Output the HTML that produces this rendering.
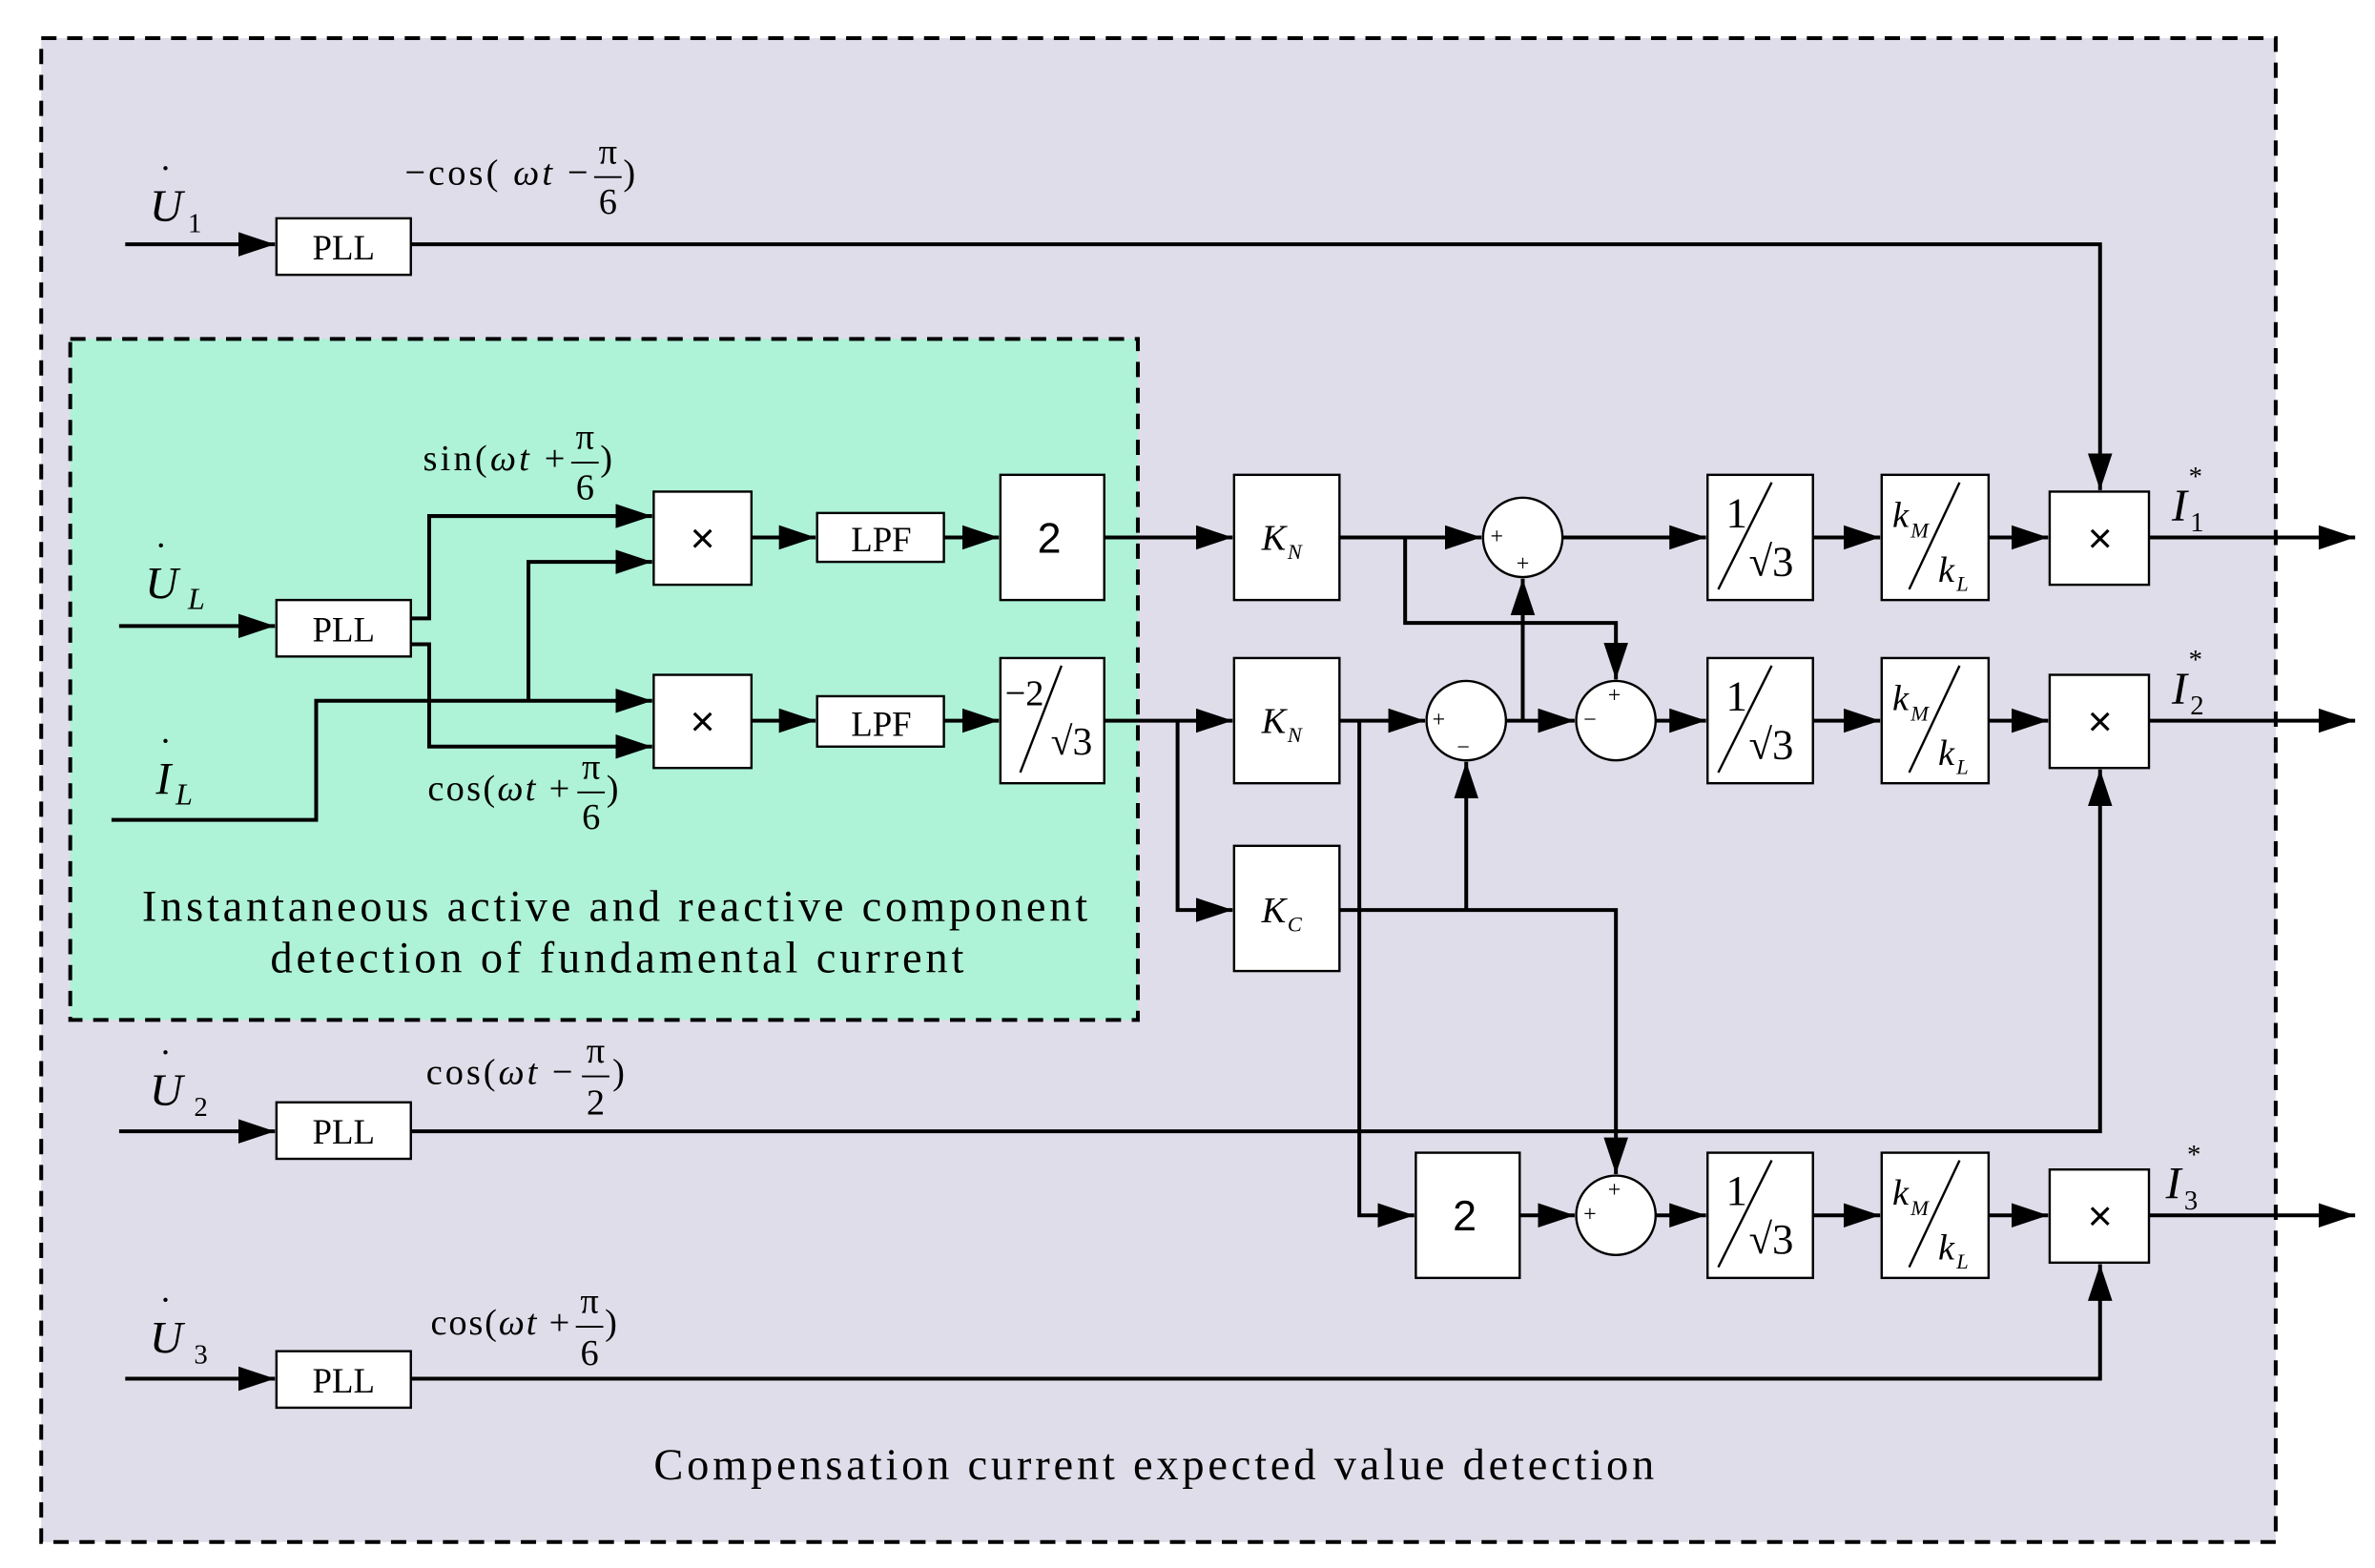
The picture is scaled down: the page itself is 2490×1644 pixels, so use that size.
<!DOCTYPE html>
<html><head><meta charset="utf-8"><style>
html,body{margin:0;padding:0;background:#fff}
svg{display:block}
text{font-family:"Liberation Serif",serif;fill:#000}
.it{font-style:italic}
</style></head><body>
<svg width="2490" height="1644" viewBox="0 0 1555 1027" preserveAspectRatio="none" xmlns="http://www.w3.org/2000/svg">
<defs>
<marker id="ar" viewBox="0 0 24 16" refX="24" refY="8" markerWidth="24" markerHeight="16" orient="auto" markerUnits="userSpaceOnUse"><path d="M0,0 L24,8 L0,16 z" fill="#000"/></marker>
</defs>
<rect x="0" y="0" width="1555" height="1027" fill="#fff"/>
<rect x="27" y="25" width="1463" height="985" fill="#dedde9" stroke="#000" stroke-width="2.5" stroke-dasharray="10,7"/>
<rect x="46" y="222" width="699" height="446" fill="#aef2d8" stroke="#000" stroke-width="2.5" stroke-dasharray="10,7"/>

<g stroke="#000" stroke-width="2.5" fill="none">
<line x1="82" y1="160" x2="180" y2="160" marker-end="url(#ar)"/>
<polyline points="269,160 1375,160 1375,321" marker-end="url(#ar)"/>
<line x1="78" y1="410" x2="180" y2="410" marker-end="url(#ar)"/>
<polyline points="269,405 281,405 281,338 427,338" marker-end="url(#ar)"/>
<polyline points="269,422 281,422 281,489 427,489" marker-end="url(#ar)"/>
<polyline points="73,537 207,537 207,459 427,459" marker-end="url(#ar)"/>
<polyline points="346,459 346,368 427,368" marker-end="url(#ar)"/>
<line x1="492" y1="352" x2="534" y2="352" marker-end="url(#ar)"/>
<line x1="618" y1="352" x2="654" y2="352" marker-end="url(#ar)"/>
<line x1="492" y1="472" x2="534" y2="472" marker-end="url(#ar)"/>
<line x1="618" y1="472" x2="654" y2="472" marker-end="url(#ar)"/>
<line x1="723" y1="352" x2="807" y2="352" marker-end="url(#ar)"/>
<line x1="723" y1="472" x2="807" y2="472" marker-end="url(#ar)"/>
<polyline points="771,472 771,596 807,596" marker-end="url(#ar)"/>
<line x1="877" y1="352" x2="970" y2="352" marker-end="url(#ar)"/>
<polyline points="920,352 920,408 1058,408 1058,445" marker-end="url(#ar)"/>
<line x1="877" y1="472" x2="933" y2="472" marker-end="url(#ar)"/>
<polyline points="890,472 890,796 926,796" marker-end="url(#ar)"/>
<line x1="986" y1="472" x2="1031" y2="472" marker-end="url(#ar)"/>
<line x1="997" y1="472" x2="997" y2="379" marker-end="url(#ar)"/>
<polyline points="877,596 1058,596 1058,769" marker-end="url(#ar)"/>
<line x1="960" y1="596" x2="960" y2="499" marker-end="url(#ar)"/>
<line x1="995" y1="796" x2="1031" y2="796" marker-end="url(#ar)"/>
<line x1="1023" y1="352" x2="1117" y2="352" marker-end="url(#ar)"/>
<line x1="1084" y1="472" x2="1117" y2="472" marker-end="url(#ar)"/>
<line x1="1084" y1="796" x2="1117" y2="796" marker-end="url(#ar)"/>
<line x1="1187" y1="352" x2="1231" y2="352" marker-end="url(#ar)"/>
<line x1="1187" y1="472" x2="1231" y2="472" marker-end="url(#ar)"/>
<line x1="1187" y1="796" x2="1231" y2="796" marker-end="url(#ar)"/>
<line x1="1302" y1="352" x2="1341" y2="352" marker-end="url(#ar)"/>
<line x1="1302" y1="472" x2="1341" y2="472" marker-end="url(#ar)"/>
<line x1="1302" y1="796" x2="1341" y2="796" marker-end="url(#ar)"/>
<line x1="1407" y1="352" x2="1542" y2="352" marker-end="url(#ar)"/>
<line x1="1407" y1="472" x2="1542" y2="472" marker-end="url(#ar)"/>
<line x1="1407" y1="796" x2="1542" y2="796" marker-end="url(#ar)"/>
<line x1="78" y1="741" x2="180" y2="741" marker-end="url(#ar)"/>
<polyline points="269,741 1375,741 1375,504" marker-end="url(#ar)"/>
<line x1="82" y1="903" x2="180" y2="903" marker-end="url(#ar)"/>
<polyline points="269,903 1375,903 1375,828" marker-end="url(#ar)"/>
</g>

<g fill="#fff" stroke="#000" stroke-width="1.5">
<rect x="181" y="143" width="88" height="37"/>
<rect x="181" y="393" width="88" height="37"/>
<rect x="181" y="722" width="88" height="37"/>
<rect x="181" y="885" width="88" height="37"/>
<rect x="428" y="322" width="64" height="61"/>
<rect x="428" y="442" width="64" height="61"/>
<rect x="535" y="336" width="83" height="32"/>
<rect x="535" y="456" width="83" height="33"/>
<rect x="655" y="311" width="68" height="82"/>
<rect x="655" y="431" width="68" height="82"/>
<rect x="808" y="311" width="69" height="82"/>
<rect x="808" y="431" width="69" height="82"/>
<rect x="808" y="554" width="69" height="82"/>
<rect x="927" y="755" width="68" height="82"/>
<rect x="1118" y="311" width="69" height="82"/>
<rect x="1118" y="431" width="69" height="82"/>
<rect x="1118" y="755" width="69" height="82"/>
<rect x="1232" y="311" width="70" height="82"/>
<rect x="1232" y="431" width="70" height="82"/>
<rect x="1232" y="755" width="70" height="82"/>
<rect x="1342" y="322" width="65" height="61"/>
<rect x="1342" y="442" width="65" height="61"/>
<rect x="1342" y="766" width="65" height="61"/>
<circle cx="997" cy="352" r="26"/>
<circle cx="960" cy="472" r="26"/>
<circle cx="1058" cy="472" r="26"/>
<circle cx="1058" cy="796" r="26"/>
</g>

<g font-size="23" text-anchor="middle">
<text x="225" y="170">PLL</text><text x="225" y="420">PLL</text>
<text x="225" y="749">PLL</text><text x="225" y="912">PLL</text>
<text x="577" y="361">LPF</text><text x="577" y="482">LPF</text>
</g>
<g font-size="28" text-anchor="middle">
<text x="460" y="362" style="font-family:'Liberation Sans',sans-serif">×</text>
<text x="460" y="482" style="font-family:'Liberation Sans',sans-serif">×</text>
<text x="1375" y="362" style="font-family:'Liberation Sans',sans-serif">×</text>
<text x="1375" y="482" style="font-family:'Liberation Sans',sans-serif">×</text>
<text x="1375" y="806" style="font-family:'Liberation Sans',sans-serif">×</text>
<text x="687" y="362" style="font-family:'Liberation Sans',sans-serif">2</text>
<text x="959" y="806" style="font-family:'Liberation Sans',sans-serif">2</text>
</g>
<g font-size="24">
<text x="826" y="360" class="it">K</text><text x="843" y="366" font-size="14" class="it">N</text>
<text x="826" y="480" class="it">K</text><text x="843" y="486" font-size="14" class="it">N</text>
<text x="826" y="604" class="it">K</text><text x="843" y="610" font-size="14" class="it">C</text>
</g>
<text x="658" y="462" font-size="24">−2</text>
<line x1="695" y1="436" x2="668" y2="506" stroke="#000" stroke-width="1.5"/>
<text x="688" y="494" font-size="26">√3</text>
<g stroke="#000" stroke-width="1.5">
<line x1="1160" y1="316" x2="1125" y2="386"/>
<line x1="1160" y1="436" x2="1125" y2="506"/>
<line x1="1160" y1="760" x2="1125" y2="830"/>
<line x1="1283" y1="316" x2="1250" y2="386"/>
<line x1="1283" y1="436" x2="1250" y2="506"/>
<line x1="1283" y1="760" x2="1250" y2="830"/>
</g>
<g font-size="28">
<text x="1130" y="345">1</text><text x="1145" y="377">√3</text>
<text x="1130" y="465">1</text><text x="1145" y="497">√3</text>
<text x="1130" y="789">1</text><text x="1145" y="821">√3</text>
</g>
<g font-size="24">
<text x="1239" y="345" class="it">k</text><text x="1251" y="352" font-size="14" class="it">M</text>
<text x="1269" y="381" class="it">k</text><text x="1281" y="387" font-size="14" class="it">L</text>
<text x="1239" y="465" class="it">k</text><text x="1251" y="472" font-size="14" class="it">M</text>
<text x="1269" y="501" class="it">k</text><text x="1281" y="507" font-size="14" class="it">L</text>
<text x="1239" y="789" class="it">k</text><text x="1251" y="796" font-size="14" class="it">M</text>
<text x="1269" y="825" class="it">k</text><text x="1281" y="831" font-size="14" class="it">L</text>
</g>
<g font-size="15" text-anchor="middle">
<text x="980" y="356">+</text><text x="997" y="374">+</text>
<text x="942" y="476">+</text><text x="958" y="494">−</text>
<text x="1041" y="476">−</text><text x="1057" y="460">+</text>
<text x="1041" y="800">+</text><text x="1057" y="784">+</text>
</g>
<g font-size="30">
<text x="98" y="145" class="it">U</text><text x="104" y="126" font-size="26">˙</text><text x="123" y="152" font-size="18">1</text>
<text x="95" y="392" class="it">U</text><text x="101" y="373" font-size="26">˙</text><text x="123" y="399" font-size="20" class="it">L</text>
<text x="102" y="520" class="it">I</text><text x="104" y="501" font-size="26">˙</text><text x="115" y="527" font-size="20" class="it">L</text>
<text x="98" y="724" class="it">U</text><text x="104" y="705" font-size="26">˙</text><text x="127" y="731" font-size="18">2</text>
<text x="98" y="886" class="it">U</text><text x="104" y="867" font-size="26">˙</text><text x="127" y="893" font-size="18">3</text>
<text x="1422" y="341" class="it">I</text><text x="1433" y="318" font-size="18">*</text><text x="1434" y="348" font-size="18">1</text>
<text x="1422" y="461" class="it">I</text><text x="1433" y="438" font-size="18">*</text><text x="1434" y="468" font-size="18">2</text>
<text x="1418" y="785" class="it">I</text><text x="1432" y="762" font-size="18">*</text><text x="1430" y="792" font-size="18">3</text>
</g>
<g font-size="24">
<text x="265" y="121" textLength="120" lengthAdjust="spacing">−cos( <tspan class="it">ωt</tspan> −</text>
<text x="398" y="107" text-anchor="middle">π</text><text x="398" y="140" text-anchor="middle">6</text><text x="408" y="121">)</text>
<text x="277" y="308" textLength="93" lengthAdjust="spacing">sin(<tspan class="it">ωt</tspan> +</text>
<text x="383" y="294" text-anchor="middle">π</text><text x="383" y="327" text-anchor="middle">6</text><text x="393" y="308">)</text>
<text x="280" y="524" textLength="93" lengthAdjust="spacing">cos(<tspan class="it">ωt</tspan> +</text>
<text x="387" y="510" text-anchor="middle">π</text><text x="387" y="543" text-anchor="middle">6</text><text x="397" y="524">)</text>
<text x="279" y="710" textLength="96" lengthAdjust="spacing">cos(<tspan class="it">ωt</tspan> −</text>
<text x="390" y="696" text-anchor="middle">π</text><text x="390" y="730" text-anchor="middle">2</text><text x="401" y="710">)</text>
<text x="282" y="874" textLength="91" lengthAdjust="spacing">cos(<tspan class="it">ωt</tspan> +</text>
<text x="386" y="860" text-anchor="middle">π</text><text x="386" y="894" text-anchor="middle">6</text><text x="396" y="874">)</text>
</g>
<g stroke="#000" stroke-width="1.2">
<line x1="389" y1="116" x2="407" y2="116"/>
<line x1="374" y1="303" x2="392" y2="303"/>
<line x1="378" y1="519" x2="396" y2="519"/>
<line x1="381" y1="705" x2="399" y2="705"/>
<line x1="377" y1="869" x2="395" y2="869"/>
</g>
<g font-size="29">
<text x="93" y="603" textLength="619" lengthAdjust="spacing">Instantaneous active and reactive component</text>
<text x="177" y="637" textLength="454" lengthAdjust="spacing">detection of fundamental current</text>
<text x="428" y="969" textLength="655" lengthAdjust="spacing">Compensation current expected value detection</text>
</g>
</svg>
</body></html>
